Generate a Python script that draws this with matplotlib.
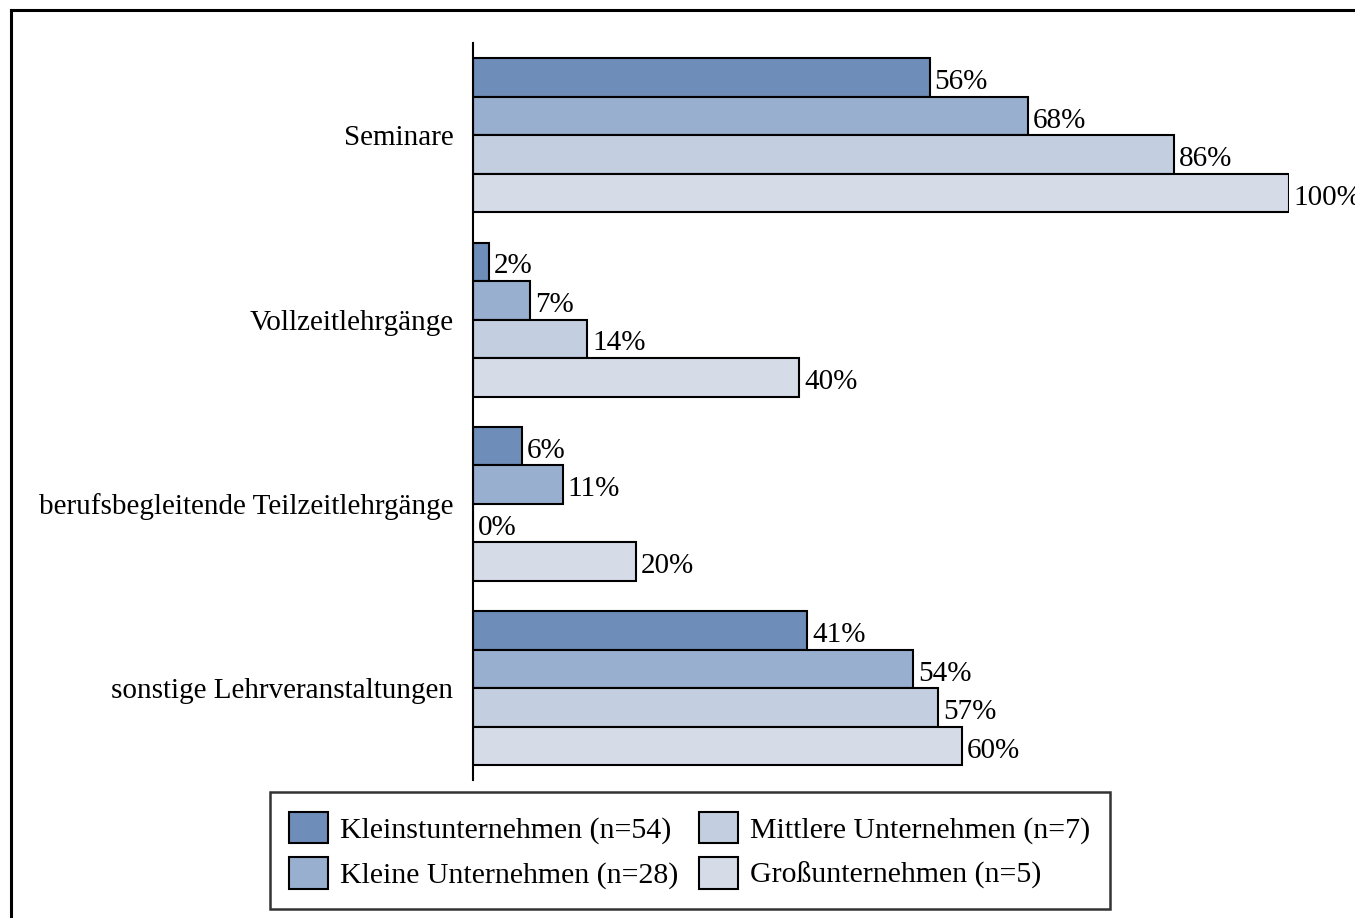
#!/usr/bin/env python3

import numpy as np
import matplotlib.pyplot as plt
from matplotlib.lines import Line2D

# -----------------------------------------------------
categories = ["Seminare", "Vollzeitlehrgänge",
              "berufsbegleitende Teilzeitlehrgänge", "sonstige Lehrveranstaltungen"]
series = ["Kleinstunternehmen (n=54)", "Kleine Unternehmen (n=28)",
          "Mittlere Unternehmen (n=7)", "Großunternehmen (n=5)"]
kleinst = [56, 2, 6, 41]
kleine  = [68, 7, 11, 54]
mittel  = [86, 14, 0, 57]
gross   = [100, 40, 20, 60]
colors  = ["#6E8DB9", "#98AFCF", "#C3CEE0", "#D5DCE7"]
# -----------------------------------------------------

plt.rcParams['font.family'] = ['Liberation Serif', 'DejaVu Serif']
fs = 21

fig = plt.figure(figsize=(13.55, 9.18), dpi=100)
ax = fig.add_axes([0.349, 0.150, 0.602, 0.803])

values = [kleinst, kleine, mittel, gross]
h = 0.209
y = np.arange(len(categories))
for i, (vals, lab, c) in enumerate(zip(values, series, colors)):
    pos = y - 1.5*h + i*h
    ax.barh(pos, vals, height=h, color=c, edgecolor='black', linewidth=1.5, label=lab)
    for p, v in zip(pos, vals):
        ax.text(v + 0.6, p + 0.025, "%d%%" % v, va='center', ha='left', fontsize=fs, clip_on=False)

ax.set_xlim(0, 100)
ax.set_ylim(len(categories) - 0.5, -0.5)
ax.set_yticks(y)
ax.set_yticklabels(categories, fontsize=fs)
ax.tick_params(axis='y', length=0, pad=14)
ax.set_xticks([])
for s in ["top", "right", "bottom"]:
    ax.spines[s].set_visible(False)
ax.spines["left"].set_linewidth(1.5)

leg = fig.legend(loc='center', bbox_to_anchor=(0.509, 0.0735), ncol=2, fontsize=21.5,
                 frameon=True, fancybox=False, edgecolor='black',
                 handlelength=1.3, handleheight=1.25, columnspacing=0.7, handletextpad=0.4,
                 labelspacing=0.45, borderpad=0.65, borderaxespad=0.0)
leg.get_frame().set_linewidth(1.8)

# border lines (top and left only, as in the source image)
fig.add_artist(Line2D([11/1355, 1.0], [1 - 9.5/918]*2, transform=fig.transFigure,
                      color='black', linewidth=2.2))
fig.add_artist(Line2D([11/1355]*2, [0.0, 1 - 9.5/918], transform=fig.transFigure,
                      color='black', linewidth=2.2))

plt.savefig('out.png', dpi=100)
